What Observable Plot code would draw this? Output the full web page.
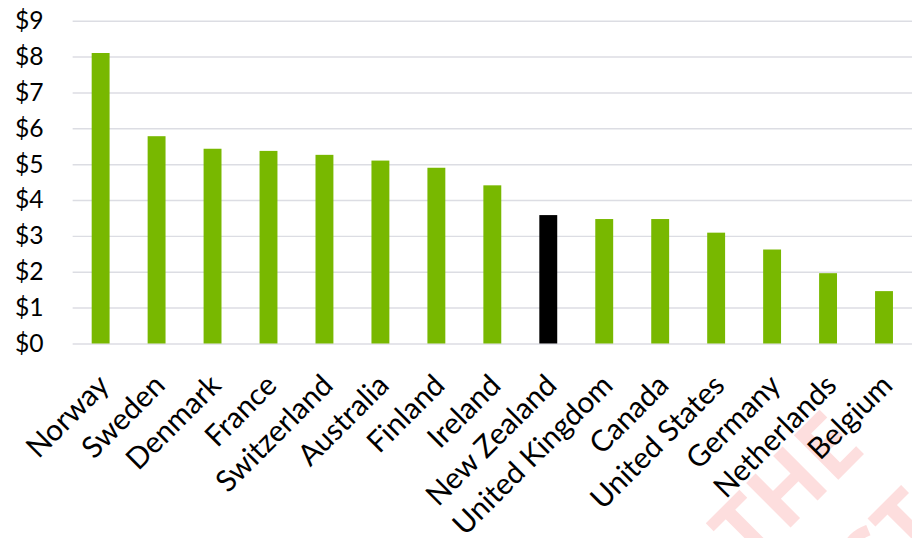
<!DOCTYPE html>
<html>
<head>
<meta charset="utf-8">
<script src="https://cdn.jsdelivr.net/npm/d3@7"></script>
<script src="https://cdn.jsdelivr.net/npm/@observablehq/plot@0.6"></script>
<style>
  html, body { margin: 0; padding: 0; background: #fff; }
  #wrap { position: relative; width: 912px; height: 538px; overflow: hidden; }
  #wm { position: absolute; left: 0; top: 0; }
  #chart { position: absolute; left: 0; top: 0; }
</style>
</head>
<body>
<div id="wrap">
  <svg id="wm" width="912" height="538">
    <g font-family="Open Sans" font-weight="700" font-size="88" fill="#fddede">
      <text x="749" y="569" transform="rotate(-45 749 569)">THE</text>
      <text x="788" y="687" transform="rotate(-45 788 687)">POST</text>
    </g>
  </svg>
  <div id="chart"></div>
</div>
<script>
const countries = ["Norway", "Sweden", "Denmark", "France", "Switzerland", "Australia", "Finland", "Ireland",
  "New Zealand", "United Kingdom", "Canada", "United States", "Germany", "Netherlands", "Belgium"];
const values = [8.1, 5.78, 5.43, 5.37, 5.26, 5.1, 4.9, 4.41, 3.58, 3.47, 3.47, 3.09, 2.62, 1.96, 1.46];
const highlighted = "New Zealand";
const yTicks = [0, 1, 2, 3, 4, 5, 6, 7, 8, 9];

const data = countries.map((c, i) => ({country: c, value: values[i]}));

const chart = Plot.plot({
  width: 924,
  height: 538,
  marginLeft: 73.6,
  marginRight: 0,
  marginTop: 21,
  marginBottom: 190,
  style: {fontFamily: "Lato, sans-serif", fontSize: "20px", color: "#000", background: "transparent", overflow: "visible"},
  x: {domain: countries, paddingInner: 0.68, paddingOuter: 0.34, round: false},
  y: {domain: [0, 9]},
  marks: [
    Plot.ruleY(yTicks, {stroke: "#dcdde3", strokeWidth: 1.5}),
    Plot.barY(data, {x: "country", y: "value", fill: d => d.country === highlighted ? "#000000" : "#78b800"}),
    Plot.axisY({ticks: yTicks, tickFormat: d => "$" + d, tickSize: 0, tickPadding: 30, fontSize: 25, label: null}),
    Plot.axisX({tickRotate: -45, tickSize: 0, tickPadding: 37, dx: 3, fontSize: 30, label: null})
  ]
});
document.getElementById("chart").appendChild(chart);
</script>
</body>
</html>
